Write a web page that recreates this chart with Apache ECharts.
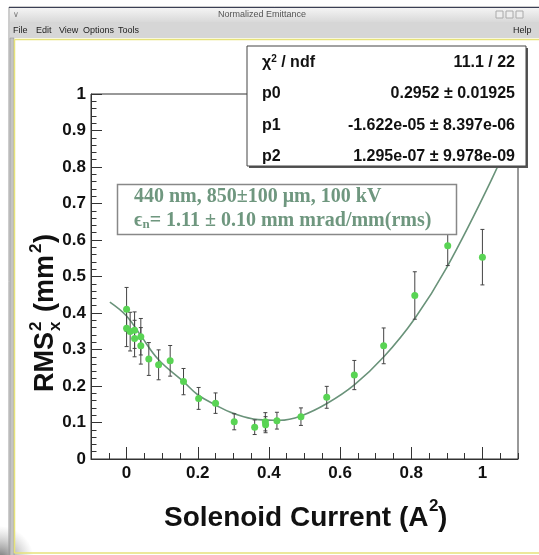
<!DOCTYPE html>
<html>
<head>
<meta charset="utf-8">
<script src="https://cdn.jsdelivr.net/npm/echarts@6/dist/echarts.min.js"></script>
<style>html,body{margin:0;padding:0;background:#fff;}#chart{width:539px;height:555px;}</style>
</head>
<body>
<div id="chart"></div>
<script>
// ---- data ----
const xValues = [0, 0, 0.01, 0.0225, 0.0225, 0.04, 0.04, 0.0625, 0.09, 0.1225, 0.16, 0.2025, 0.25, 0.3025, 0.36, 0.39, 0.3906, 0.4225, 0.49, 0.5625, 0.64, 0.7225, 0.81, 0.9025, 1.0];
const yValues = [0.41, 0.358, 0.349, 0.353, 0.33, 0.335, 0.31, 0.274, 0.258, 0.269, 0.212, 0.166, 0.153, 0.102, 0.087, 0.102, 0.094, 0.105, 0.116, 0.169, 0.23, 0.31, 0.448, 0.584, 0.553];
const yErrors = [0.06, 0.05, 0.053, 0.05, 0.05, 0.05, 0.05, 0.045, 0.041, 0.042, 0.036, 0.03, 0.028, 0.022, 0.02, 0.025, 0.022, 0.023, 0.024, 0.03, 0.04, 0.049, 0.065, 0.054, 0.076];
const fitX = [-0.047, 0, 0.04, 0.09, 0.16, 0.2, 0.25, 0.3, 0.37, 0.43, 0.49, 0.563, 0.64, 0.723, 0.81, 0.9, 1.025, 1.1];
const fitY = [0.430, 0.392, 0.338, 0.272, 0.212, 0.176, 0.148, 0.125, 0.108, 0.106, 0.118, 0.152, 0.203, 0.28, 0.385, 0.525, 0.764, 0.93];
const xMajorTicks = [0, 0.2, 0.4, 0.6, 0.8, 1];
const xMinorTicks = [-0.1, -0.05, 0, 0.05, 0.1, 0.15, 0.2, 0.25, 0.3, 0.35, 0.4, 0.45, 0.5, 0.55, 0.6, 0.65, 0.7, 0.75, 0.8, 0.85, 0.9, 0.95, 1, 1.05, 1.1];
const statsRows = [
  ['χ{sup|2} / ndf', '11.1 / 22'],
  ['p0', '0.2952 ± 0.01925'],
  ['p1', '-1.622e-05 ± 8.397e-06'],
  ['p2', '1.295e-07 ± 9.978e-09']
];
const noteLine1 = '440 nm, 850±100 μm, 100 kV';
const noteLine2 = 'ϵ{sub|n}= 1.11 ± 0.10 mm mrad/mm(rms)';

const points = xValues.map((x, i) => [x, yValues[i]]);
const errs = xValues.map((x, i) => [x, yValues[i], yErrors[i]]);
const fit = fitX.map((x, i) => [x, fitY[i]]);

const SANS = 'Liberation Sans, Arial, Helvetica, sans-serif';
const SERIF = 'Liberation Serif, Times New Roman, serif';
const noteColor = '#6f977f';

const statsTexts = [];
const rowY = [63, 94, 126, 157];
statsRows.forEach((r, i) => {
  statsTexts.push({type: 'text', z: 102, style: {text: r[0], x: 262, y: rowY[i], verticalAlign: 'middle', align: 'left',
    font: 'bold 16px ' + SANS, fill: '#111', rich: {sup: {fontSize: 10, fontWeight: 'bold', fontFamily: SANS, fill: '#111', verticalAlign: 'top', padding: [0, 0, 8, 0]}}}});
  statsTexts.push({type: 'text', z: 102, style: {text: r[1], x: 515, y: rowY[i], verticalAlign: 'middle', align: 'right',
    font: 'bold 16px ' + SANS, fill: '#111'}});
});

const chart = echarts.init(document.getElementById('chart'), null, {renderer: 'canvas'});
chart.setOption({
  animation: false,
  backgroundColor: '#ffffff',
  grid: {left: 91, top: 94, right: 21, bottom: 96, show: true, borderColor: '#333', borderWidth: 1, backgroundColor: 'transparent'},
  xAxis: [
    {type: 'value', min: -0.1, max: 1.1, position: 'bottom',
      axisLine: {show: true, onZero: false, lineStyle: {color: '#333', width: 1}},
      axisTick: {show: true, inside: true, length: 12, customValues: xMajorTicks, lineStyle: {color: '#333'}},
      axisLabel: {customValues: xMajorTicks, margin: 6, fontSize: 17, fontWeight: 'bold', fontFamily: SANS, color: '#111',
        formatter: v => (Math.abs(v) < 1e-9 ? '0' : (Math.abs(v - 1) < 1e-9 ? '1' : v.toFixed(1)))},
      splitLine: {show: false}},
    {type: 'value', min: -0.1, max: 1.1, position: 'bottom', offset: 0,
      axisLine: {show: false, onZero: false},
      axisTick: {show: true, inside: true, length: 6, customValues: xMinorTicks, lineStyle: {color: '#333'}},
      axisLabel: {show: false}, splitLine: {show: false}}
  ],
  yAxis: {type: 'value', min: 0, max: 1, interval: 0.1,
    axisLine: {show: true, onZero: false, lineStyle: {color: '#333', width: 1}},
    axisTick: {show: true, inside: true, length: 11, lineStyle: {color: '#333'}},
    minorTick: {show: true, splitNumber: 5, length: 5.5, lineStyle: {color: '#333'}},
    axisLabel: {margin: 5, fontSize: 17, fontWeight: 'bold', fontFamily: SANS, color: '#111',
      formatter: v => (Math.abs(v) < 1e-9 ? '0' : (Math.abs(v - 1) < 1e-9 ? '1' : v.toFixed(1)))},
    splitLine: {show: false}, minorSplitLine: {show: false}},
  series: [
    {type: 'line', data: fit, smooth: 0.4, symbol: 'none', z: 2,
      lineStyle: {color: '#6a937a', width: 1.6}},
    {type: 'custom', data: errs, z: 3,
      renderItem: function (params, api) {
        const x = api.value(0), y = api.value(1), e = api.value(2);
        const top = api.coord([x, y + e]);
        const bot = api.coord([x, y - e]);
        const st = {stroke: '#444', lineWidth: 1};
        return {type: 'group', children: [
          {type: 'line', shape: {x1: top[0], y1: top[1], x2: bot[0], y2: bot[1]}, style: st},
          {type: 'line', shape: {x1: top[0] - 2, y1: top[1], x2: top[0] + 2, y2: top[1]}, style: st},
          {type: 'line', shape: {x1: bot[0] - 2, y1: bot[1], x2: bot[0] + 2, y2: bot[1]}, style: st}
        ]};
      }},
    {type: 'scatter', data: points, symbol: 'circle', symbolSize: 7, z: 4,
      itemStyle: {color: '#59d454', opacity: 1}}
  ],
  graphic: [
    // window chrome
    {type: 'circle', z: 90, shape: {cx: 0, cy: 560, r: 34}, style: {fill: new echarts.graphic.RadialGradient(0.5, 0.5, 0.5, [{offset: 0, color: 'rgba(90,90,90,0.9)'}, {offset: 1, color: 'rgba(160,160,160,0)'}])}},
    {type: 'rect', z: 91, shape: {x: 9, y: 7, width: 540, height: 560}, style: {fill: 'none', stroke: '#9a9a9a', lineWidth: 1}},
    {type: 'rect', z: 91, shape: {x: 10, y: 8, width: 540, height: 14}, style: {fill: new echarts.graphic.LinearGradient(0, 0, 0, 1, [{offset: 0, color: '#f4f4f4'}, {offset: 1, color: '#d9d9d9'}])}},
    {type: 'line', z: 91, shape: {x1: 9, y1: 7.5, x2: 539, y2: 7.5}, style: {stroke: '#3a3f55', lineWidth: 1}},
    {type: 'text', z: 92, style: {text: 'Normalized Emittance', x: 262, y: 15, align: 'center', verticalAlign: 'middle', font: '9px ' + SANS, fill: '#555'}},
    {type: 'text', z: 92, style: {text: '∨', x: 13, y: 15, verticalAlign: 'middle', font: '8px ' + SANS, fill: '#777'}},
    {type: 'rect', z: 92, shape: {x: 496, y: 11, width: 7, height: 7}, style: {fill: '#eee', stroke: '#aaa'}},
    {type: 'rect', z: 92, shape: {x: 506, y: 11, width: 7, height: 7}, style: {fill: '#eee', stroke: '#aaa'}},
    {type: 'rect', z: 92, shape: {x: 516, y: 11, width: 7, height: 7}, style: {fill: '#eee', stroke: '#aaa'}},
    {type: 'rect', z: 91, shape: {x: 10, y: 22, width: 540, height: 16}, style: {fill: '#d6d6d6'}},
    {type: 'text', z: 92, style: {text: 'File', x: 13, y: 30.5, verticalAlign: 'middle', font: '9px ' + SANS, fill: '#222'}},
    {type: 'text', z: 92, style: {text: 'Edit', x: 36, y: 30.5, verticalAlign: 'middle', font: '9px ' + SANS, fill: '#222'}},
    {type: 'text', z: 92, style: {text: 'View', x: 59, y: 30.5, verticalAlign: 'middle', font: '9px ' + SANS, fill: '#222'}},
    {type: 'text', z: 92, style: {text: 'Options', x: 83, y: 30.5, verticalAlign: 'middle', font: '9px ' + SANS, fill: '#222'}},
    {type: 'text', z: 92, style: {text: 'Tools', x: 118, y: 30.5, verticalAlign: 'middle', font: '9px ' + SANS, fill: '#222'}},
    {type: 'text', z: 92, style: {text: 'Help', x: 513, y: 30.5, verticalAlign: 'middle', font: '9px ' + SANS, fill: '#222'}},
    {type: 'rect', z: 91, shape: {x: 10, y: 38, width: 4, height: 530}, style: {fill: '#c4c4c4', stroke: '#8a8a8a', lineWidth: 0.5}},
    {type: 'line', z: 91, shape: {x1: 14.5, y1: 39.5, x2: 539, y2: 39.5}, style: {stroke: '#e6e27a', lineWidth: 1.5}},
    {type: 'line', z: 91, shape: {x1: 14.5, y1: 39.5, x2: 14.5, y2: 553}, style: {stroke: '#e6e27a', lineWidth: 1.5}},
    {type: 'line', z: 91, shape: {x1: 14.5, y1: 553, x2: 539, y2: 553}, style: {stroke: '#e6e27a', lineWidth: 1.5}},
    // stats box
    {type: 'rect', z: 100, shape: {x: 249, y: 48, width: 279, height: 120}, style: {fill: '#555'}},
    {type: 'rect', z: 101, shape: {x: 247, y: 46, width: 279, height: 120}, style: {fill: '#fff', stroke: '#444', lineWidth: 1}},
    ...statsTexts,
    // note box
    {type: 'rect', z: 100, shape: {x: 117.5, y: 184.5, width: 339, height: 50}, style: {fill: '#fff', stroke: '#888', lineWidth: 1.5}},
    {type: 'text', z: 101, style: {text: noteLine1, x: 134, y: 197, verticalAlign: 'middle', font: 'bold 20px ' + SERIF, fill: noteColor}},
    {type: 'text', z: 101, style: {text: noteLine2, x: 134, y: 221, verticalAlign: 'middle', font: 'bold 20px ' + SERIF, fill: noteColor,
      rich: {sub: {fontSize: 13, fontWeight: 'bold', fontFamily: SERIF, fill: noteColor, padding: [8, 0, 0, 0]}}}},
    // axis titles
    {type: 'text', z: 101, style: {text: 'Solenoid Current (A', x: 164, y: 518, align: 'left', verticalAlign: 'middle', font: 'bold 28px ' + SANS, fill: '#111'}},
    {type: 'text', z: 101, style: {text: '2', x: 429, y: 506, align: 'left', verticalAlign: 'middle', font: 'bold 17px ' + SANS, fill: '#111'}},
    {type: 'text', z: 101, style: {text: ')', x: 438, y: 518, align: 'left', verticalAlign: 'middle', font: 'bold 28px ' + SANS, fill: '#111'}},
    {type: 'group', z: 101, x: 46, y: 312, rotation: Math.PI / 2, children: [
      {type: 'text', z: 101, style: {text: 'RMS', x: -80, y: 0, align: 'left', verticalAlign: 'middle', font: 'bold 27px ' + SANS, fill: '#111'}},
      {type: 'text', z: 101, style: {text: '2', x: -19, y: -10, align: 'left', verticalAlign: 'middle', font: 'bold 17px ' + SANS, fill: '#111'}},
      {type: 'text', z: 101, style: {text: 'x', x: -19, y: 9, align: 'left', verticalAlign: 'middle', font: 'bold 17px ' + SANS, fill: '#111'}},
      {type: 'text', z: 101, style: {text: '(mm', x: 0, y: 0, align: 'left', verticalAlign: 'middle', font: 'bold 27px ' + SANS, fill: '#111'}},
      {type: 'text', z: 101, style: {text: '2', x: 59, y: -10, align: 'left', verticalAlign: 'middle', font: 'bold 17px ' + SANS, fill: '#111'}},
      {type: 'text', z: 101, style: {text: ')', x: 69, y: 0, align: 'left', verticalAlign: 'middle', font: 'bold 27px ' + SANS, fill: '#111'}}
    ]}
  ]
});
</script>
</body>
</html>
